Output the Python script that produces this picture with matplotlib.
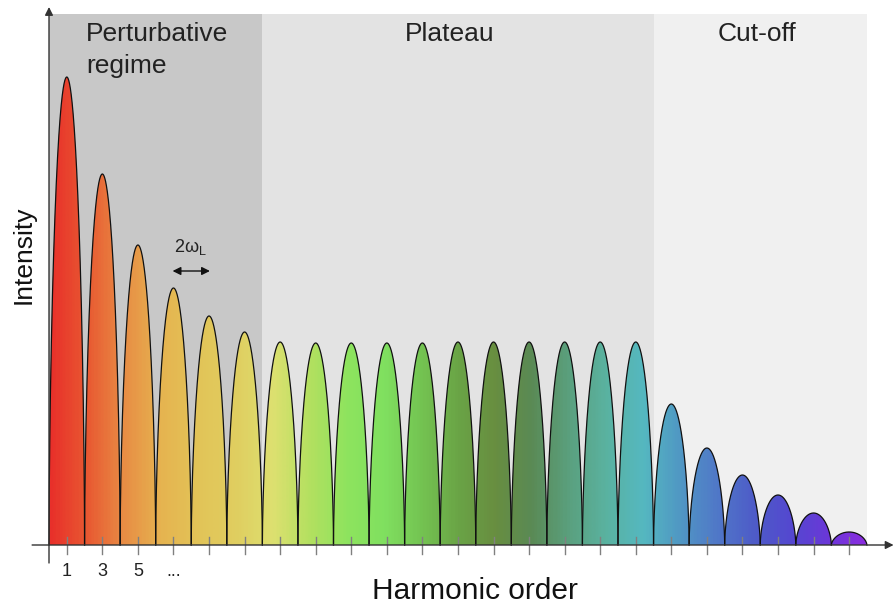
import numpy as np
import matplotlib.pyplot as plt
from matplotlib.colors import LinearSegmentedColormap
from matplotlib.path import Path
from matplotlib.patches import PathPatch, Rectangle

plt.rcParams['font.family'] = ['Liberation Sans', 'DejaVu Sans']
plt.rcParams['mathtext.fontset'] = 'custom'
plt.rcParams['mathtext.rm'] = 'Liberation Sans'

# Harmonische Ordnungen (ungerade) und Intensitaeten der Peaks (willkuerliche Einheiten)
harmonics = [1, 3, 5, 7, 9, 11, 13, 15, 17, 19, 21, 23, 25, 27, 29, 31, 33, 35, 37, 39, 41, 43, 45]
intensity = [468, 371, 300, 257, 229, 213,
             203, 202, 202, 202, 202, 203, 203, 203, 203, 203, 203,
             141, 97, 70, 50, 32, 13]

# Bereiche: Name, Start, Ende (in harmonischer Ordnung), Farbe
region_names = ["Perturbative\nregime", "Plateau", "Cut-off"]
region_bounds = [(0, 12), (12, 34), (34, 46)]
region_colors = ['#c8c8c8', '#e3e3e3', '#f0f0f0']

tick_labels = ['1', '3', '5', '...']

# Farbverlauf ueber das Spektrum
spectrum_colors = ['#e8302a', '#e85a32', '#e88e45', '#e6b450', '#e2c458', '#e0ce60',
                   '#dde070', '#b3e060', '#8ee45e', '#80e060', '#74c452', '#6aa446',
                   '#688e40', '#5a8a55', '#5aa07e', '#5ab2a0', '#55b8c0', '#5098c4',
                   '#5078c8', '#4e5cc8', '#5448d0', '#6a38d8', '#8a2ce0']
cmap = LinearSegmentedColormap.from_list('spectrum', spectrum_colors)

fig = plt.figure(figsize=(8.95, 6.08), dpi=100)
ax = fig.add_axes([0, 0, 1, 1])

# Hintergrund-Bereiche
for (x0, x1), c in zip(region_bounds, region_colors):
    ax.add_patch(Rectangle((x0, 0), x1 - x0, 531, facecolor=c, edgecolor='none', zorder=0))

# Boegen der Harmonischen
u = np.linspace(-1, 1, 301)
verts, codes = [], []
outlines = []
for h, I in zip(harmonics, intensity):
    xs = h + u
    ys = I * (1 - u**2) ** 0.6
    pts = list(zip(xs, ys))
    verts += pts + [pts[0]]
    codes += [Path.MOVETO] + [Path.LINETO] * (len(pts) - 1) + [Path.CLOSEPOLY]
    outlines.append((xs, ys))

clip = PathPatch(Path(verts, codes), facecolor='none', edgecolor='none')
ax.add_patch(clip)
grad = np.linspace(0, 1, 600).reshape(1, -1)
im = ax.imshow(grad, extent=(0, 46, 0, 480), aspect='auto', cmap=cmap,
               origin='lower', interpolation='bilinear', zorder=2)
im.set_clip_path(clip)

for xs, ys in outlines:
    ax.plot(xs, ys, color='#111111', lw=0.9, zorder=3)

# Teilstriche
for h in harmonics:
    ax.plot([h, h], [-9, 8], color='#808080', lw=1, zorder=4)
for h, lab in zip(harmonics, tick_labels):
    ax.text(h, -26, lab, ha='center', va='center', fontsize=13, color='#222222')

# Achsen mit Pfeilen
ax.annotate('', xy=(0, 538), xytext=(0, -18),
            arrowprops=dict(arrowstyle='-|>', color='#333333', lw=1, mutation_scale=12,
                            shrinkA=0, shrinkB=0), zorder=5)
ax.annotate('', xy=(47.5, 0), xytext=(-0.95, 0),
            arrowprops=dict(arrowstyle='-|>', color='#333333', lw=1, mutation_scale=12,
                            shrinkA=0, shrinkB=0), zorder=5)

# Beschriftungen der Bereiche
for i, line in enumerate(region_names[0].split('\n')):
    ax.text(2.08, 504 - 32 * i, line, ha='left', va='baseline', fontsize=19, color='#222222')
ax.text(22.55, 504, region_names[1], ha='center', va='baseline', fontsize=19, color='#222222')
ax.text(39.82, 504, region_names[2], ha='center', va='baseline', fontsize=19, color='#222222')

ax.text(7.95, 298, r'2ω$_{\rm L}$', ha='center', va='center', fontsize=13, color='#222222')
ax.annotate('', xy=(6.95, 274), xytext=(9.05, 274),
            arrowprops=dict(arrowstyle='<|-|>', color='#111111', lw=1, mutation_scale=12,
                            shrinkA=0, shrinkB=0))

ax.text(23.96, -54, 'Harmonic order', ha='center', va='baseline', fontsize=21.5, color='#111111')
ax.text(-1.45, 290, 'Intensity', ha='center', va='center', rotation=90, fontsize=19, color='#111111')

ax.set_xlim(-2.756, 47.58)
ax.set_ylim(-63, 545)
ax.axis('off')

fig.savefig('out.png', dpi=100)
